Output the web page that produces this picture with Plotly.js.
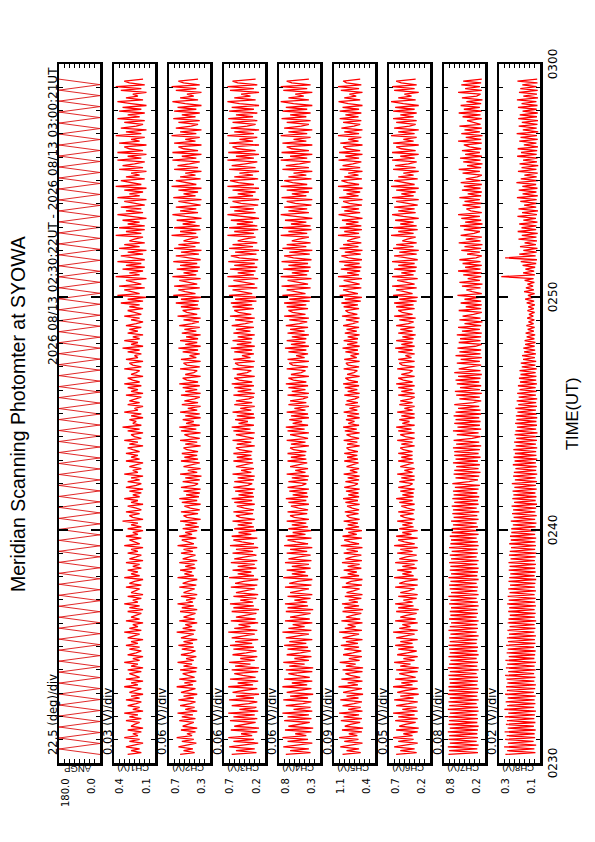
<!DOCTYPE html>
<html><head><meta charset="utf-8">
<script src="https://cdn.plot.ly/plotly-3.0.1.min.js"></script>
<style>
html,body{margin:0;padding:0;background:#fff;width:595px;height:842px;overflow:hidden}
#rot{position:absolute;left:0;top:0;width:842px;height:595px;transform-origin:0 0;transform:translate(0px,842px) rotate(-90deg)}
</style></head><body><div id="rot"></div>
<script>
// ---- chart content ----
const chartTitle = "Meridian Scanning Photomter at SYOWA";
const dateRange = "2026 08/13 02:30:22UT - 2026 08/13 03:00:21UT";
const timeAxisTitle = "TIME(UT)";
const channelNames = ["ANGP","CH1(V)","CH2(V)","CH3(V)","CH4(V)","CH5(V)","CH6(V)","CH7(V)","CH8(V)"];
const scaleLabels = ["22.5 (deg)/div","0.03 (V)/div","0.06 (V)/div","0.06 (V)/div","0.06 (V)/div","0.09 (V)/div","0.05 (V)/div","0.08 (V)/div","0.02 (V)/div"];
const perDiv = [22.5,0.03,0.06,0.06,0.06,0.09,0.05,0.08,0.02];
const axisLow = [0,0.13,0.26,0.21,0.28,0.40,0.25,0.20,0.10];
const topTickText = ["180.0","0.4","0.7","0.7","0.8","1.1","0.7","0.8","0.3"];
const bottomTickText = ["0.0","0.1","0.3","0.2","0.3","0.4","0.2","0.2","0.1"];
const timeTickVals = [0,10,20,30];            // minutes after 02:30 UT
const timeTickText = ["0230","0240","0250","0300"];
const firstSampleMin = 22/60;                 // 02:30:22
const lastSampleMin = 30 - 39/60;             // 03:00:21

const angp = [0,180,0,180,0,180,0,180,0,180,0,180,0,180,0,180,0,180,0,180,
0,180,0,180,0,180,0,180,0,180,0,180,0,180,0,180,0,180,0,180,
0,180,0,180,0,180,0,180,0,180,0,180,0,180,0,180,0,180,0,180,
0,180,0,180,0,180,0,180,0,180,0,180,0,180,0,180,0,180,0,180,
0,180,0,180,0,180,0,180,0,180,0,180,0,180,0,180,0,180,0,180,
0,180,0,180,0,180,0,180,0,180,0,180,0,180,0,180,0,180,0,180,
0,180,0,180];

const ch1 = [0.29,0.21,0.27,0.22,0.30,0.24,0.20,0.28,0.22,0.31,0.23,0.26,0.21,0.29,0.20,0.27,0.25,0.22,0.30,0.21,
0.28,0.23,0.31,0.20,0.26,0.22,0.29,0.24,0.21,0.30,0.22,0.27,0.20,0.28,0.25,0.21,0.31,0.23,0.27,0.20,
0.30,0.22,0.25,0.28,0.21,0.29,0.20,0.27,0.23,0.31,0.22,0.26,0.20,0.29,0.24,0.21,0.28,0.22,0.30,0.23,
0.27,0.20,0.29,0.25,0.22,0.31,0.21,0.28,0.23,0.26,0.20,0.30,0.22,0.27,0.24,0.21,0.29,0.20,0.28,0.22,
0.31,0.23,0.26,0.21,0.29,0.20,0.27,0.24,0.22,0.30,0.21,0.28,0.25,0.20,0.31,0.22,0.27,0.23,0.29,0.21,
0.26,0.22,0.30,0.20,0.28,0.24,0.21,0.29,0.23,0.27,0.20,0.31,0.22,0.25,0.28,0.21,0.30,0.23,0.26,0.20,
0.29,0.21,0.27,0.23,0.32,0.20,0.26,0.28,0.22,0.30,0.21,0.24,0.29,0.20,0.27,0.23,0.31,0.22,0.26,0.21,
0.28,0.20,0.30,0.24,0.21,0.29,0.22,0.27,0.20,0.31,0.23,0.26,0.21,0.28,0.24,0.20,0.30,0.22,0.27,0.23,
0.30,0.22,0.26,0.29,0.20,0.28,0.23,0.31,0.21,0.25,0.27,0.20,0.29,0.22,0.32,0.21,0.26,0.24,0.28,0.20,
0.27,0.21,0.31,0.23,0.25,0.20,0.29,0.22,0.28,0.24,0.21,0.30,0.20,0.27,0.23,0.29,0.21,0.31,0.22,0.26,
0.29,0.20,0.27,0.24,0.22,0.31,0.21,0.26,0.28,0.20,0.30,0.23,0.25,0.21,0.29,0.22,0.32,0.20,0.27,0.23,
0.31,0.22,0.26,0.20,0.29,0.23,0.28,0.21,0.30,0.24,0.20,0.27,0.22,0.31,0.21,0.25,0.29,0.20,0.28,0.22,
0.33,0.20,0.29,0.18,0.35,0.22,0.27,0.31,0.19,0.34,0.21,0.26,0.30,0.18,0.36,0.22,0.28,0.20,0.32,0.19,
0.30,0.21,0.35,0.19,0.27,0.33,0.20,0.29,0.18,0.34,0.22,0.31,0.19,0.28,0.25,0.20,0.36,0.21,0.30,0.19,
0.34,0.19,0.29,0.22,0.32,0.18,0.27,0.35,0.20,0.30,0.21,0.33,0.19,0.26,0.31,0.18,0.35,0.22,0.28,0.20,
0.31,0.18,0.36,0.21,0.28,0.33,0.19,0.30,0.22,0.27,0.18,0.34,0.20,0.32,0.25,0.19,0.35,0.21,0.29,0.18,
0.35,0.20,0.28,0.31,0.18,0.34,0.22,0.27,0.19,0.36,0.21,0.30,0.18,0.33,0.24,0.20,0.31,0.19,0.35,0.22,
0.29,0.19,0.34,0.21,0.32,0.18,0.27,0.35,0.20,0.30,0.23,0.26,0.18,0.33,0.21,0.36,0.19,0.28,0.31,0.20];

const ch2 = [0.61,0.44,0.57,0.46,0.63,0.50,0.42,0.59,0.45,0.65,0.47,0.53,0.43,0.60,0.41,0.58,0.52,0.45,0.62,0.43,
0.59,0.46,0.64,0.41,0.55,0.44,0.61,0.49,0.43,0.63,0.45,0.57,0.41,0.60,0.51,0.43,0.65,0.46,0.56,0.42,
0.62,0.44,0.52,0.58,0.42,0.61,0.41,0.57,0.47,0.64,0.45,0.54,0.42,0.60,0.49,0.43,0.59,0.45,0.63,0.46,
0.57,0.41,0.60,0.51,0.45,0.65,0.43,0.58,0.47,0.55,0.41,0.62,0.44,0.57,0.50,0.43,0.61,0.41,0.59,0.45,
0.64,0.46,0.54,0.43,0.60,0.41,0.57,0.49,0.44,0.62,0.42,0.58,0.51,0.41,0.64,0.45,0.56,0.47,0.61,0.43,
0.55,0.44,0.62,0.41,0.58,0.50,0.43,0.60,0.46,0.57,0.41,0.64,0.45,0.52,0.59,0.42,0.62,0.47,0.55,0.41,
0.58,0.39,0.55,0.41,0.61,0.37,0.53,0.57,0.40,0.60,0.38,0.49,0.56,0.37,0.59,0.41,0.62,0.39,0.54,0.38,
0.57,0.37,0.60,0.44,0.40,0.58,0.38,0.55,0.36,0.61,0.41,0.52,0.37,0.57,0.47,0.38,0.60,0.40,0.56,0.41,
0.59,0.40,0.53,0.57,0.37,0.55,0.41,0.61,0.38,0.50,0.56,0.37,0.60,0.42,0.62,0.38,0.54,0.45,0.58,0.37,
0.55,0.38,0.61,0.41,0.52,0.37,0.59,0.40,0.56,0.44,0.38,0.60,0.37,0.55,0.41,0.58,0.38,0.62,0.40,0.53,
0.58,0.37,0.55,0.45,0.41,0.61,0.38,0.53,0.57,0.37,0.60,0.42,0.50,0.38,0.58,0.40,0.63,0.37,0.55,0.41,
0.61,0.40,0.54,0.37,0.59,0.42,0.56,0.38,0.62,0.47,0.39,0.57,0.37,0.64,0.41,0.53,0.58,0.38,0.60,0.40,
0.66,0.39,0.60,0.36,0.69,0.43,0.55,0.63,0.38,0.68,0.41,0.52,0.62,0.37,0.70,0.42,0.57,0.40,0.65,0.38,
0.61,0.41,0.69,0.37,0.55,0.66,0.39,0.60,0.36,0.68,0.43,0.63,0.38,0.57,0.50,0.40,0.71,0.42,0.61,0.37,
0.68,0.38,0.58,0.43,0.65,0.36,0.55,0.70,0.40,0.61,0.42,0.66,0.37,0.53,0.63,0.36,0.69,0.43,0.57,0.40,
0.63,0.36,0.71,0.42,0.56,0.66,0.37,0.61,0.43,0.55,0.36,0.68,0.40,0.64,0.50,0.38,0.70,0.42,0.59,0.36,
0.70,0.40,0.57,0.63,0.36,0.68,0.43,0.55,0.38,0.71,0.42,0.61,0.36,0.66,0.48,0.40,0.63,0.38,0.69,0.43,
0.59,0.38,0.68,0.42,0.64,0.36,0.55,0.70,0.40,0.61,0.45,0.53,0.36,0.66,0.42,0.71,0.38,0.57,0.63,0.40];

const ch3 = [0.60,0.31,0.55,0.33,0.63,0.42,0.29,0.58,0.34,0.64,0.36,0.49,0.30,0.61,0.28,0.57,0.45,0.32,0.62,0.30,
0.58,0.33,0.64,0.29,0.51,0.31,0.60,0.40,0.30,0.63,0.34,0.55,0.28,0.59,0.46,0.30,0.64,0.35,0.53,0.29,
0.62,0.32,0.47,0.57,0.29,0.60,0.28,0.56,0.38,0.63,0.33,0.50,0.30,0.59,0.43,0.31,0.58,0.34,0.62,0.36,
0.56,0.29,0.60,0.47,0.33,0.64,0.30,0.57,0.38,0.52,0.29,0.61,0.32,0.55,0.44,0.31,0.60,0.28,0.58,0.34,
0.62,0.35,0.50,0.31,0.58,0.29,0.55,0.42,0.33,0.61,0.30,0.56,0.46,0.29,0.63,0.34,0.53,0.37,0.59,0.31,
0.53,0.33,0.61,0.30,0.57,0.44,0.31,0.59,0.35,0.55,0.29,0.62,0.34,0.48,0.58,0.30,0.60,0.37,0.52,0.30,
0.57,0.34,0.53,0.36,0.59,0.33,0.50,0.55,0.35,0.58,0.34,0.45,0.54,0.33,0.57,0.36,0.60,0.34,0.52,0.35,
0.56,0.33,0.58,0.41,0.36,0.57,0.34,0.53,0.33,0.59,0.37,0.49,0.34,0.55,0.43,0.35,0.58,0.36,0.54,0.37,
0.58,0.36,0.51,0.55,0.33,0.54,0.37,0.59,0.34,0.47,0.55,0.33,0.58,0.38,0.60,0.34,0.52,0.41,0.56,0.33,
0.54,0.34,0.59,0.37,0.50,0.33,0.57,0.36,0.55,0.40,0.34,0.58,0.33,0.53,0.37,0.57,0.34,0.60,0.36,0.51,
0.57,0.33,0.54,0.42,0.37,0.59,0.34,0.52,0.56,0.33,0.58,0.38,0.48,0.34,0.57,0.36,0.61,0.33,0.54,0.37,
0.59,0.36,0.53,0.33,0.58,0.38,0.55,0.34,0.60,0.44,0.35,0.56,0.33,0.62,0.37,0.52,0.57,0.34,0.59,0.36,
0.61,0.31,0.56,0.29,0.63,0.36,0.50,0.59,0.30,0.64,0.33,0.47,0.58,0.29,0.65,0.34,0.53,0.32,0.62,0.30,
0.57,0.33,0.64,0.29,0.51,0.61,0.31,0.56,0.28,0.63,0.35,0.59,0.30,0.53,0.45,0.32,0.65,0.34,0.57,0.29,
0.63,0.30,0.54,0.35,0.61,0.28,0.51,0.65,0.32,0.57,0.34,0.62,0.29,0.49,0.59,0.28,0.64,0.35,0.53,0.32,
0.59,0.28,0.65,0.34,0.52,0.62,0.29,0.57,0.35,0.51,0.28,0.63,0.32,0.60,0.44,0.30,0.65,0.34,0.55,0.28,
0.64,0.32,0.53,0.59,0.28,0.63,0.35,0.51,0.30,0.65,0.34,0.57,0.28,0.61,0.42,0.32,0.59,0.30,0.64,0.35,
0.55,0.30,0.63,0.34,0.60,0.28,0.51,0.65,0.32,0.57,0.38,0.49,0.28,0.62,0.34,0.65,0.30,0.53,0.59,0.32];

const ch4 = [0.68,0.39,0.63,0.41,0.71,0.50,0.37,0.66,0.42,0.72,0.44,0.57,0.38,0.69,0.36,0.65,0.53,0.40,0.70,0.38,
0.66,0.41,0.72,0.37,0.59,0.39,0.68,0.48,0.38,0.71,0.42,0.63,0.36,0.67,0.54,0.38,0.72,0.43,0.61,0.37,
0.70,0.40,0.55,0.65,0.37,0.68,0.36,0.64,0.46,0.71,0.41,0.58,0.38,0.67,0.51,0.39,0.66,0.42,0.70,0.44,
0.64,0.37,0.68,0.55,0.41,0.72,0.38,0.65,0.46,0.60,0.37,0.69,0.40,0.63,0.52,0.39,0.68,0.36,0.66,0.42,
0.69,0.43,0.58,0.39,0.66,0.37,0.63,0.50,0.41,0.69,0.38,0.64,0.54,0.37,0.71,0.42,0.61,0.45,0.67,0.39,
0.61,0.41,0.69,0.38,0.65,0.52,0.39,0.67,0.43,0.63,0.37,0.70,0.42,0.56,0.66,0.38,0.68,0.45,0.60,0.38,
0.65,0.42,0.61,0.44,0.67,0.41,0.58,0.63,0.43,0.66,0.42,0.53,0.62,0.41,0.65,0.44,0.68,0.42,0.60,0.43,
0.64,0.41,0.66,0.49,0.44,0.65,0.42,0.61,0.41,0.67,0.45,0.57,0.42,0.63,0.51,0.43,0.66,0.44,0.62,0.45,
0.66,0.44,0.59,0.63,0.41,0.62,0.45,0.67,0.42,0.55,0.63,0.41,0.66,0.46,0.68,0.42,0.60,0.49,0.64,0.41,
0.62,0.42,0.67,0.45,0.58,0.41,0.65,0.44,0.63,0.48,0.42,0.66,0.41,0.61,0.45,0.65,0.42,0.68,0.44,0.59,
0.65,0.41,0.62,0.50,0.45,0.67,0.42,0.60,0.64,0.41,0.66,0.46,0.56,0.42,0.65,0.44,0.69,0.41,0.62,0.45,
0.67,0.44,0.61,0.41,0.66,0.46,0.63,0.42,0.68,0.52,0.43,0.64,0.41,0.70,0.45,0.60,0.65,0.42,0.67,0.44,
0.70,0.40,0.64,0.38,0.72,0.45,0.58,0.67,0.39,0.73,0.42,0.55,0.66,0.38,0.74,0.43,0.61,0.41,0.71,0.39,
0.65,0.42,0.73,0.38,0.59,0.70,0.40,0.64,0.37,0.72,0.44,0.67,0.39,0.61,0.53,0.41,0.74,0.43,0.65,0.38,
0.72,0.39,0.62,0.44,0.69,0.37,0.59,0.74,0.41,0.65,0.43,0.70,0.38,0.57,0.67,0.37,0.73,0.44,0.61,0.41,
0.67,0.37,0.74,0.43,0.60,0.70,0.38,0.65,0.44,0.59,0.37,0.72,0.41,0.68,0.52,0.39,0.74,0.43,0.63,0.37,
0.73,0.41,0.61,0.67,0.37,0.72,0.44,0.59,0.39,0.74,0.43,0.65,0.37,0.70,0.50,0.41,0.67,0.39,0.73,0.44,
0.63,0.39,0.72,0.43,0.68,0.37,0.59,0.74,0.41,0.65,0.47,0.57,0.37,0.71,0.43,0.74,0.39,0.61,0.67,0.41];

const ch5 = [0.97,0.65,0.90,0.68,1.01,0.80,0.62,0.94,0.69,1.03,0.71,0.86,0.63,0.98,0.61,0.93,0.83,0.66,1.00,0.63,
0.95,0.68,1.03,0.62,0.87,0.65,0.97,0.77,0.63,1.01,0.69,0.90,0.61,0.96,0.82,0.63,1.04,0.70,0.88,0.62,
0.99,0.66,0.83,0.92,0.62,0.97,0.61,0.91,0.74,1.02,0.67,0.86,0.63,0.96,0.79,0.64,0.94,0.68,1.00,0.70,
0.91,0.62,0.97,0.83,0.68,1.03,0.63,0.93,0.74,0.88,0.62,0.99,0.66,0.91,0.80,0.64,0.97,0.61,0.94,0.68,
0.98,0.70,0.86,0.64,0.93,0.62,0.90,0.78,0.67,0.98,0.63,0.91,0.82,0.62,1.01,0.68,0.88,0.72,0.95,0.64,
0.88,0.67,0.98,0.63,0.92,0.80,0.64,0.95,0.70,0.90,0.62,1.00,0.68,0.84,0.94,0.63,0.97,0.72,0.87,0.63,
0.92,0.68,0.88,0.70,0.95,0.67,0.85,0.90,0.69,0.93,0.68,0.80,0.89,0.67,0.92,0.70,0.96,0.68,0.87,0.69,
0.91,0.67,0.94,0.76,0.70,0.92,0.68,0.88,0.67,0.95,0.71,0.84,0.68,0.90,0.78,0.69,0.94,0.70,0.89,0.71,
0.94,0.70,0.86,0.90,0.67,0.89,0.71,0.95,0.68,0.82,0.90,0.67,0.93,0.72,0.96,0.68,0.87,0.76,0.91,0.67,
0.89,0.68,0.95,0.71,0.85,0.67,0.92,0.70,0.90,0.75,0.68,0.94,0.67,0.88,0.71,0.93,0.68,0.96,0.70,0.86,
0.92,0.67,0.89,0.77,0.71,0.95,0.68,0.87,0.91,0.67,0.94,0.72,0.83,0.68,0.92,0.70,0.97,0.67,0.89,0.71,
0.95,0.70,0.88,0.67,0.93,0.72,0.90,0.68,0.96,0.79,0.69,0.91,0.67,0.98,0.71,0.87,0.92,0.68,0.95,0.70,
0.99,0.65,0.93,0.63,1.02,0.70,0.86,0.96,0.64,1.03,0.67,0.83,0.95,0.63,1.05,0.68,0.89,0.66,1.00,0.64,
0.94,0.67,1.03,0.63,0.87,0.99,0.65,0.93,0.62,1.02,0.69,0.96,0.64,0.89,0.80,0.66,1.05,0.68,0.94,0.63,
1.02,0.64,0.91,0.69,0.98,0.62,0.87,1.04,0.66,0.94,0.68,0.99,0.63,0.85,0.96,0.62,1.03,0.69,0.90,0.66,
0.96,0.62,1.05,0.68,0.88,0.99,0.63,0.94,0.69,0.87,0.62,1.02,0.66,0.97,0.79,0.64,1.04,0.68,0.92,0.62,
1.03,0.66,0.90,0.96,0.62,1.01,0.69,0.87,0.64,1.05,0.68,0.94,0.62,0.99,0.77,0.66,0.96,0.64,1.02,0.69,
0.92,0.64,1.02,0.68,0.97,0.62,0.87,1.04,0.66,0.94,0.73,0.85,0.62,1.00,0.68,1.05,0.64,0.90,0.96,0.66];

const ch6 = [0.58,0.38,0.54,0.40,0.60,0.48,0.37,0.56,0.41,0.61,0.42,0.51,0.37,0.58,0.36,0.55,0.49,0.39,0.59,0.37,
0.56,0.40,0.61,0.37,0.52,0.38,0.58,0.46,0.37,0.60,0.41,0.54,0.36,0.57,0.49,0.37,0.61,0.42,0.53,0.37,
0.59,0.39,0.49,0.55,0.37,0.58,0.36,0.54,0.44,0.60,0.40,0.51,0.37,0.57,0.47,0.38,0.56,0.41,0.59,0.42,
0.54,0.37,0.58,0.49,0.40,0.61,0.37,0.55,0.44,0.52,0.37,0.59,0.39,0.54,0.48,0.38,0.58,0.36,0.56,0.41,
0.59,0.42,0.51,0.38,0.56,0.37,0.54,0.46,0.40,0.59,0.37,0.55,0.49,0.37,0.60,0.41,0.52,0.43,0.57,0.38,
0.52,0.40,0.59,0.37,0.55,0.48,0.38,0.57,0.42,0.54,0.37,0.60,0.40,0.50,0.56,0.37,0.58,0.43,0.52,0.37,
0.55,0.41,0.52,0.42,0.57,0.40,0.50,0.54,0.41,0.56,0.40,0.47,0.53,0.40,0.55,0.42,0.58,0.41,0.52,0.41,
0.54,0.40,0.56,0.45,0.42,0.55,0.40,0.53,0.40,0.57,0.42,0.50,0.40,0.54,0.46,0.41,0.56,0.42,0.53,0.42,
0.56,0.42,0.51,0.54,0.40,0.53,0.42,0.57,0.40,0.49,0.54,0.40,0.56,0.43,0.58,0.40,0.52,0.45,0.55,0.40,
0.53,0.40,0.57,0.42,0.50,0.40,0.55,0.42,0.54,0.44,0.40,0.56,0.40,0.53,0.42,0.56,0.40,0.58,0.42,0.51,
0.56,0.40,0.53,0.45,0.42,0.57,0.40,0.52,0.55,0.40,0.56,0.43,0.49,0.40,0.56,0.42,0.59,0.40,0.53,0.42,
0.58,0.41,0.52,0.39,0.56,0.42,0.54,0.40,0.58,0.46,0.41,0.55,0.39,0.60,0.42,0.52,0.56,0.40,0.58,0.41,
0.60,0.38,0.55,0.37,0.61,0.42,0.50,0.58,0.38,0.62,0.40,0.48,0.57,0.37,0.62,0.41,0.53,0.39,0.60,0.38,
0.56,0.40,0.62,0.37,0.51,0.60,0.38,0.55,0.36,0.61,0.41,0.58,0.38,0.52,0.47,0.39,0.63,0.41,0.56,0.37,
0.61,0.38,0.54,0.41,0.59,0.36,0.51,0.62,0.39,0.56,0.40,0.60,0.37,0.50,0.58,0.36,0.62,0.41,0.53,0.39,
0.58,0.36,0.63,0.40,0.52,0.60,0.37,0.56,0.41,0.51,0.36,0.61,0.39,0.59,0.46,0.38,0.62,0.40,0.54,0.36,
0.62,0.39,0.53,0.58,0.36,0.61,0.41,0.51,0.38,0.63,0.40,0.56,0.36,0.60,0.45,0.39,0.58,0.38,0.61,0.41,
0.54,0.38,0.61,0.40,0.59,0.36,0.51,0.63,0.39,0.56,0.43,0.50,0.36,0.60,0.40,0.62,0.38,0.53,0.58,0.39];

const ch7 = [0.77,0.31,0.76,0.32,0.78,0.30,0.75,0.33,0.77,0.31,0.76,0.32,0.78,0.31,0.75,0.30,0.77,0.32,0.76,0.31,
0.77,0.32,0.75,0.30,0.78,0.31,0.76,0.33,0.77,0.30,0.75,0.32,0.78,0.31,0.76,0.30,0.77,0.32,0.75,0.31,
0.76,0.31,0.77,0.33,0.75,0.30,0.78,0.32,0.76,0.31,0.74,0.33,0.77,0.30,0.75,0.32,0.76,0.31,0.77,0.33,
0.75,0.32,0.76,0.30,0.74,0.33,0.77,0.31,0.75,0.32,0.73,0.30,0.76,0.33,0.74,0.31,0.75,0.32,0.73,0.30,
0.76,0.31,0.74,0.33,0.77,0.30,0.73,0.32,0.75,0.31,0.76,0.33,0.74,0.30,0.77,0.32,0.73,0.31,0.75,0.30,
0.74,0.32,0.76,0.30,0.73,0.33,0.75,0.31,0.72,0.32,0.76,0.30,0.74,0.31,0.73,0.33,0.75,0.30,0.72,0.31,
0.72,0.31,0.70,0.33,0.73,0.30,0.69,0.32,0.71,0.29,0.70,0.33,0.72,0.30,0.68,0.31,0.71,0.29,0.69,0.32,
0.70,0.30,0.67,0.28,0.71,0.45,0.31,0.66,0.29,0.69,0.27,0.68,0.30,0.65,0.28,0.70,0.31,0.66,0.27,0.68,
0.30,0.68,0.28,0.70,0.26,0.65,0.29,0.69,0.40,0.27,0.64,0.30,0.70,0.26,0.63,0.28,0.68,0.27,0.66,0.29,
0.69,0.26,0.66,0.27,0.62,0.29,0.68,0.38,0.26,0.60,0.28,0.65,0.25,0.67,0.28,0.59,0.26,0.64,0.29,0.66,
0.27,0.62,0.25,0.68,0.27,0.61,0.43,0.26,0.64,0.28,0.58,0.25,0.66,0.27,0.60,0.26,0.63,0.35,0.25,0.61,
0.27,0.59,0.26,0.64,0.25,0.56,0.28,0.62,0.26,0.52,0.24,0.60,0.27,0.55,0.38,0.25,0.61,0.26,0.50,0.25,
0.58,0.26,0.52,0.28,0.63,0.25,0.40,0.49,0.27,0.56,0.24,0.60,0.28,0.47,0.26,0.54,0.25,0.62,0.27,0.51,
0.25,0.55,0.27,0.60,0.34,0.25,0.48,0.28,0.57,0.26,0.52,0.24,0.61,0.27,0.50,0.25,0.58,0.37,0.28,0.53,
0.26,0.59,0.24,0.51,0.26,0.57,0.28,0.62,0.25,0.42,0.49,0.27,0.55,0.24,0.52,0.28,0.60,0.26,0.47,0.25,
0.56,0.27,0.53,0.25,0.58,0.27,0.50,0.32,0.25,0.55,0.28,0.61,0.26,0.48,0.24,0.54,0.27,0.59,0.25,0.51,
0.28,0.56,0.26,0.44,0.53,0.25,0.62,0.26,0.50,0.24,0.57,0.28,0.52,0.25,0.60,0.27,0.38,0.48,0.25,0.55,
0.27,0.61,0.25,0.53,0.28,0.58,0.26,0.49,0.24,0.56,0.33,0.27,0.62,0.25,0.51,0.28,0.57,0.26,0.54,0.25];

const ch8 = [0.235,0.118,0.228,0.122,0.240,0.115,0.225,0.125,0.236,0.119,0.230,0.121,0.238,0.117,0.226,0.124,0.233,0.118,0.229,0.122,
0.237,0.120,0.224,0.116,0.239,0.123,0.228,0.118,0.234,0.121,0.226,0.117,0.236,0.124,0.229,0.119,0.232,0.116,0.227,0.122,
0.231,0.118,0.236,0.123,0.224,0.117,0.233,0.121,0.228,0.116,0.235,0.122,0.222,0.119,0.230,0.117,0.226,0.123,0.232,0.118,
0.225,0.120,0.229,0.116,0.221,0.122,0.227,0.118,0.219,0.121,0.226,0.115,0.223,0.120,0.218,0.117,0.224,0.121,0.220,0.116,
0.228,0.119,0.222,0.117,0.226,0.121,0.219,0.116,0.224,0.120,0.217,0.118,0.223,0.115,0.220,0.121,0.216,0.117,0.222,0.119,
0.219,0.116,0.223,0.120,0.215,0.117,0.221,0.114,0.218,0.119,0.213,0.116,0.220,0.118,0.214,0.115,0.217,0.119,0.212,0.116,
0.212,0.117,0.206,0.114,0.214,0.119,0.203,0.113,0.209,0.118,0.205,0.115,0.211,0.112,0.201,0.117,0.208,0.114,0.204,0.118,
0.207,0.113,0.200,0.116,0.210,0.112,0.198,0.117,0.205,0.111,0.202,0.115,0.196,0.113,0.206,0.116,0.199,0.111,0.203,0.114,
0.198,0.115,0.204,0.111,0.195,0.116,0.201,0.112,0.193,0.114,0.199,0.110,0.196,0.115,0.190,0.112,0.197,0.114,0.192,0.111,
0.194,0.113,0.188,0.116,0.196,0.112,0.185,0.115,0.191,0.111,0.183,0.116,0.189,0.113,0.180,0.117,0.186,0.112,0.178,0.115,
0.182,0.114,0.176,0.117,0.180,0.113,0.171,0.118,0.175,0.115,0.166,0.120,0.170,0.116,0.162,0.119,0.165,0.121,0.158,0.118,
0.160,0.122,0.152,0.119,0.156,0.124,0.148,0.121,0.153,0.125,0.145,0.122,0.150,0.126,0.143,0.121,0.149,0.124,0.146,0.120,
0.152,0.123,0.158,0.126,0.147,0.121,0.162,0.124,0.155,0.127,0.149,0.122,0.160,0.125,0.251,0.120,0.166,0.123,0.157,0.119,
0.168,0.115,0.175,0.112,0.236,0.117,0.181,0.113,0.165,0.110,0.178,0.116,0.160,0.112,0.184,0.114,0.171,0.109,0.187,0.115,
0.172,0.114,0.181,0.110,0.165,0.116,0.188,0.112,0.170,0.108,0.184,0.115,0.162,0.111,0.177,0.113,0.190,0.109,0.168,0.114,
0.183,0.110,0.169,0.115,0.192,0.108,0.175,0.113,0.161,0.109,0.186,0.114,0.172,0.107,0.180,0.112,0.166,0.110,0.189,0.113,
0.174,0.111,0.187,0.108,0.163,0.114,0.181,0.109,0.176,0.112,0.191,0.107,0.167,0.113,0.183,0.110,0.171,0.108,0.185,0.112,
0.179,0.109,0.168,0.113,0.186,0.110,0.172,0.114,0.190,0.108,0.165,0.112,0.182,0.109,0.177,0.113,0.169,0.110,0.188,0.111];

const series = [angp, ch1, ch2, ch3, ch4, ch5, ch6, ch7, ch8];

// ---- layout geometry (landscape page, rotated onto the portrait sheet) ----
const W = 842, H = 595;
const plotLeft = 79, plotRight = 778;
const panelTop0 = 59, panelPitch = 55, panelHeight = 41;
const px = x => x / W, py = y => 1 - y / H;

function sampleTimes(n) {
  const out = [];
  for (let i = 0; i < n; i++) out.push(firstSampleMin + (lastSampleMin - firstSampleMin) * i / (n - 1));
  return out;
}

const traces = [];
const layout = {
  width: W, height: H, margin: {l:0, r:0, t:0, b:0},
  paper_bgcolor: '#fff', plot_bgcolor: '#fff', showlegend: false,
  font: {family: 'DejaVu Sans, sans-serif', color: '#000'},
  annotations: []
};
const ann = (o) => layout.annotations.push(Object.assign({showarrow:false, xref:'paper', yref:'paper'}, o));

for (let i = 0; i < 9; i++) {
  const s = i === 0 ? '' : String(i + 1);
  const top = panelTop0 + panelPitch * i;
  layout['xaxis' + s] = {
    domain: [px(plotLeft), px(plotRight)], range: [0, 30], anchor: 'y' + s,
    showline: true, linewidth: 2.5, linecolor: '#000', mirror: 'ticks',
    ticks: 'inside', ticklen: 9, tickwidth: 1.5, tickcolor: '#000',
    tickmode: 'array', tickvals: timeTickVals, ticktext: timeTickText,
    showticklabels: i === 8, tickfont: {family: 'DejaVu Sans, sans-serif', size: 12, color: '#000'},
    minor: {tick0: 0, dtick: 1, ticks: 'inside', ticklen: 4, tickwidth: 1, tickcolor: '#000', showgrid: false},
    showgrid: false, zeroline: false, fixedrange: true
  };
  layout['yaxis' + s] = {
    domain: [py(top + panelHeight), py(top)], range: [axisLow[i], axisLow[i] + 8 * perDiv[i]], anchor: 'x' + s,
    showline: true, linewidth: 2.5, linecolor: '#000', mirror: 'ticks',
    ticks: 'inside', tickmode: 'linear', tick0: axisLow[i], dtick: perDiv[i], ticklen: 4, tickwidth: 1, tickcolor: '#000',
    showticklabels: false, showgrid: false, zeroline: false, fixedrange: true
  };
  traces.push({
    x: sampleTimes(series[i].length), y: series[i], xaxis: 'x' + s, yaxis: 'y' + s,
    type: 'scatter', mode: 'lines', hoverinfo: 'skip',
    line: i === 0 ? {color: '#dd1111', width: 0.9} : {color: '#ff0000', width: 1.3}
  });
  ann({text: scaleLabels[i], x: px(85), y: py(top - 6.5), xanchor: 'left', yanchor: 'middle',
       font: {family: 'DejaVu Sans, sans-serif', size: 11.5, color: '#000'}});
  ann({text: channelNames[i], textangle: -90, x: px(73), y: py(top + 19), xanchor: 'center', yanchor: 'middle',
       font: {family: 'Liberation Sans, Arial, sans-serif', size: 9.5, color: '#000'}});
  ann({text: topTickText[i], x: px(66), y: py(top + 6), xanchor: 'right', yanchor: 'middle',
       font: {family: 'DejaVu Sans, sans-serif', size: 10, color: '#000'}});
  ann({text: bottomTickText[i], x: px(66), y: py(top + 32), xanchor: 'right', yanchor: 'middle',
       font: {family: 'DejaVu Sans, sans-serif', size: 10, color: '#000'}});
}

ann({text: chartTitle, x: px(428), y: py(18), xanchor: 'center', yanchor: 'middle',
     font: {family: 'Liberation Sans, Arial, sans-serif', size: 19.5, color: '#000'}});
ann({text: dateRange, x: px(777), y: py(52.5), xanchor: 'right', yanchor: 'middle',
     font: {family: 'DejaVu Sans, sans-serif', size: 12, color: '#000'}});
ann({text: timeAxisTitle, x: px(428), y: py(572), xanchor: 'center', yanchor: 'middle',
     font: {family: 'Liberation Sans, Arial, sans-serif', size: 16.5, color: '#000'}});

Plotly.newPlot('rot', traces, layout, {staticPlot: true, displayModeBar: false});
</script></body></html>
